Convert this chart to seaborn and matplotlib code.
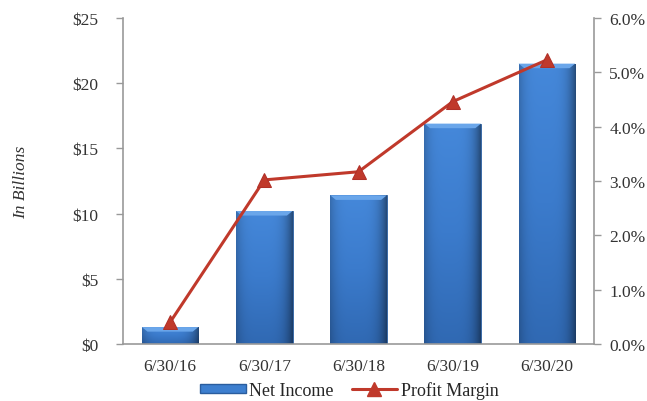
import numpy as np
import pandas as pd
import matplotlib
matplotlib.use("Agg")
import matplotlib.pyplot as plt
import seaborn as sns
from matplotlib.lines import Line2D
from matplotlib.patches import Patch
from matplotlib.colors import LinearSegmentedColormap

categories = ["6/30/16", "6/30/17", "6/30/18", "6/30/19", "6/30/20"]
net_income = [1.3, 10.2, 11.4, 16.9, 21.5]
profit_margin = [0.40, 3.02, 3.17, 4.46, 5.23]
left_ticks = [0, 5, 10, 15, 20, 25]
right_ticks = [0, 1, 2, 3, 4, 5, 6]

sns.set_theme(style="white")
plt.rcParams['font.family'] = ['Liberation Serif', 'DejaVu Serif']

df = pd.DataFrame({"Date": categories, "Net Income": net_income, "Profit Margin": profit_margin})

fig = plt.figure(figsize=(6.47, 4.02), dpi=100)
ax = fig.add_axes([123/647, 1 - 345/402, (594-123)/647, (345-19)/402])

sns.barplot(data=df, x="Date", y="Net Income", ax=ax, color="#3d7fcf", width=0.6,
            edgecolor="#2a5d9e", linewidth=0.6, zorder=2)

cmap = LinearSegmentedColormap.from_list("b", ["#4588da", "#3b7bcc", "#3069b3"])
hgrad = np.linspace(0, 1, 64)
for p in list(ax.patches):
    x0, y0 = p.get_x(), p.get_y()
    w, h = p.get_width(), p.get_height()
    shade = 1 - 0.3 * (np.abs(hgrad - 0.45) * 2) ** 4
    img = np.outer(np.linspace(0.0, 1.0, 128), np.ones(64))
    base = cmap(img)
    base[..., :3] *= shade[None, :, None]
    im = ax.imshow(base, extent=[x0, x0 + w, y0, y0 + h], origin="upper",
                   aspect="auto", zorder=2.1, interpolation="bilinear")
    im.set_clip_path(p)
    bev = min(0.35, h * 0.5)
    ax.fill([x0, x0 + w, x0 + w - 0.06, x0 + 0.06], [y0 + h, y0 + h, y0 + h - bev, y0 + h - bev],
            color="#6aa6ea", zorder=2.2, lw=0)

ax.set_xlim(-0.5, 4.5)
ax.set_ylim(0, 25)
ax.set_yticks(left_ticks)
ax.set_yticklabels([f"${v}" for v in left_ticks], fontsize=12.5, color="#333333")
ax.set_xticks(range(len(categories)))
ax.set_xticklabels(categories, fontsize=12.5, color="#333333")
ax.set_xticks([i + 0.5 for i in range(-1, 5)], minor=True)
ax.tick_params(axis="x", which="major", length=0, pad=10)
ax.tick_params(axis="x", which="minor", length=5, color="#999999", direction="out", width=1)
ax.tick_params(axis="y", length=5, color="#999999", direction="out", width=1, pad=13)
ax.set_xlabel("")
ax.set_ylabel("In Billions", fontsize=12.5, fontstyle="italic", color="#333333", labelpad=31)
for s in ["top", "right"]:
    ax.spines[s].set_visible(False)
for s in ["left", "bottom"]:
    ax.spines[s].set_color("#999999")
    ax.spines[s].set_linewidth(1.2)

ax2 = ax.twinx()
sns.lineplot(x=list(range(len(categories))), y=profit_margin, ax=ax2, color="#c0392b",
             linewidth=2.2, marker="^", markersize=10, markeredgecolor="#b03028", zorder=3)
ax2.set_ylim(0, 6)
ax2.set_yticks(right_ticks)
ax2.set_yticklabels([f"{v:.1f}%" for v in right_ticks], fontsize=12.5, color="#333333")
ax2.tick_params(axis="y", length=5, color="#999999", direction="out", width=1, pad=6)
for s in ["top", "left", "bottom"]:
    ax2.spines[s].set_visible(False)
ax2.spines["right"].set_color("#999999")
ax2.spines["right"].set_linewidth(1.2)
ax2.set_xlim(-0.5, 4.5)

handles = [Patch(facecolor="#3d7fcf", edgecolor="#2a5d9e", label="Net Income"),
           Line2D([0], [0], color="#c0392b", lw=2.2, marker="^", markersize=10, label="Profit Margin")]
fig.legend(handles=handles, loc="lower center", bbox_to_anchor=(0.54, -0.035), ncol=2,
           frameon=False, fontsize=13, handlelength=2.5, handleheight=0.45,
           columnspacing=1.0, handletextpad=0.2)

fig.savefig("out.png", dpi=100)
